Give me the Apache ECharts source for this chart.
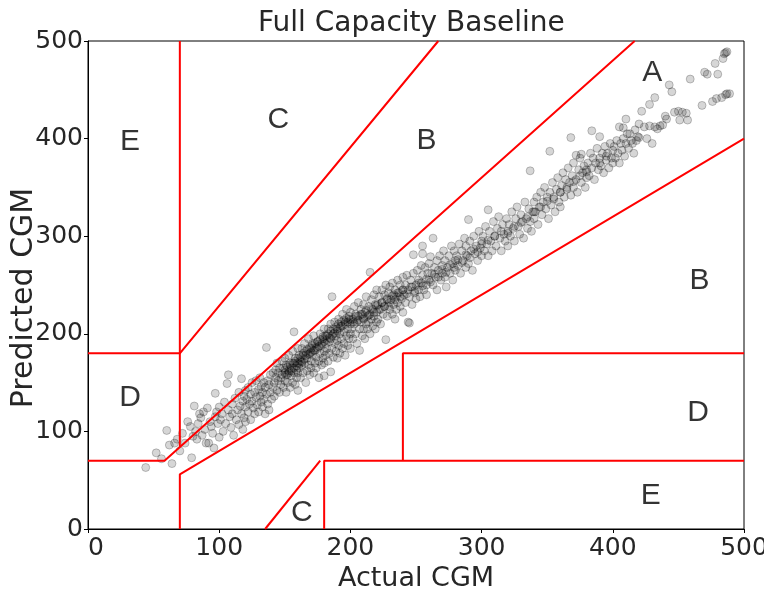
<!DOCTYPE html>
<html>
<head>
<meta charset="utf-8">
<script src="https://cdn.jsdelivr.net/npm/echarts@6/dist/echarts.min.js"></script>
<style>
html,body{margin:0;padding:0;background:#fff;}
#chart{width:764px;height:592px;}
</style>
</head>
<body>
<div id="chart"></div>
<script>
// Tick values
const xTicks = [0, 100, 200, 300, 400, 500];
const yTicks = [0, 100, 200, 300, 400, 500];

// Zone boundary segments (data coordinates of Clarke error grid)
const zoneLines = [
  [[0, 70], [58.33, 70], [416.67, 500]],
  [[0, 180], [70, 180], [267, 500]],
  [[70, 500], [70, 84]],
  [[70, 0], [70, 56], [500, 400]],
  [[135, 0], [177, 70]],
  [[180, 0], [180, 70], [500, 70]],
  [[240, 70], [240, 180], [500, 180]]
];

// Zone letters [x, y, label]
const zoneLabels = [
  [430, 467, 'A'], [258, 398, 'B'], [466, 254, 'B'],
  [145, 419, 'C'], [163, 17, 'C'], [32, 135, 'D'],
  [465, 119, 'D'], [32, 397, 'E'], [429, 34, 'E']
];

// [Actual CGM, Predicted CGM] pairs
const pairsLow = [
  [44,63],[52,78],[56,72],[60,101],[62,86],[64,67],[66,88],[68,92],[70,80],[72,98],[74,88],[76,110],[78,105],[79,73],[80,95],
  [81,126],[82,100],[83,92],[84,108],[85,118],[86,114],[87,96],[88,120],[89,102],[90,88],[91,124],[92,88],[93,110],[94,105],[95,98],[96,83],[97,139],[97,115],[98,120],[99,108],
  [100,94],[100,125],[101,112],[102,118],[103,100],[104,130],[105,108],[106,149],[107,158],[107,122],[108,115],[109,104],[110,128],[110,118],[111,96],[112,134],[113,112],[114,122],[115,107],[115,140],[116,126],[117,154],[117,118],[118,131],[118,102],[119,136],[119,114],[120,125],[120,142],[120,110],
  [121,133],[122,120],[122,145],[123,128],[124,138],[124,112],[125,150],[125,131],[126,124],[127,140],[127,118],[128,135],[128,152],[129,127],[130,143],[130,120],[131,136],[131,155],[132,130],[132,146],[133,125],[133,140],[134,150],[134,133],[135,118],[135,145],[136,186],[136,138],[137,152],[137,128],[138,122],[138,148],[139,140],[139,158],[140,133]
];
const pairsMid = [
  [141,145],[141,160],[142,150],[142,136],[143,163],[143,155],[144,142],[144,170],[145,152],[145,160],[146,140],[146,165],[147,155],[147,148],[148,172],[148,158],[149,145],[149,165],[150,160],[150,152],[150,175],[151,140],[151,168],[152,158],[152,150],[153,178],[153,162],[154,145],[154,170],[155,157],[155,165],[156,182],[156,150],[157,202],[157,170],[157,160],[158,148],[158,175],[159,163],[159,155],[160,185],[160,170],[160,160],[160,142],[161,178],
  [161,165],[162,172],[162,155],[163,185],[163,168],[164,160],[164,178],[165,190],[165,170],[166,150],[166,182],[167,175],[167,162],[168,195],[168,168],[169,180],[169,158],[170,185],[170,172],[170,165],[171,190],[171,178],[172,160],[172,198],[173,183],[173,170],[174,176],[174,165],[175,192],[175,185],[176,172],[176,155],[177,200],[177,180],[178,168],[178,188],[179,175],[179,195],[180,157],[180,182],[180,170],[180,205],
  [181,190],[181,178],[182,198],[182,185],[183,172],[183,205],[184,192],[184,180],[185,161],[185,210],[185,195],[186,238],[186,185],[187,200],[187,176],[188,190],[188,212],[189,182],[189,198],[190,205],[190,193],[190,175],[191,215],[191,188],[192,200],[192,180],[193,208],[193,195],[194,220],[194,185],[195,202],[195,190],[196,212],[196,178],[197,198],[197,225],[198,205],[198,188],[199,215],[199,195],[200,210],[200,200],[200,185],[200,222],
  [201,205],[202,215],[202,195],[203,228],[203,210],[204,200],[204,220],[205,212],[205,190],[206,232],[206,218],[207,183],[207,205],[208,225],[208,212],[209,198],[209,220],[210,215],[210,230],[210,205],[211,222],[211,195],[212,210],[212,238],[213,218],[213,205],[214,228],[214,212],[215,263],[215,200],[215,220],[216,235],[216,215],[217,208],[217,225],[218,240],[218,218],[219,205],[219,230],[220,222],[220,212],[220,245],
  [221,230],[221,215],[222,238],[223,225],[223,210],[224,245],[224,232],[225,220],[226,240],[226,228],[227,194],[227,250],[228,235],[228,218],[229,242],[229,228],[230,225],[230,248],[231,235],[232,220],[232,252],[233,240],[233,230],[234,215],[234,245],[235,238],[235,225],[236,255],[236,232],[237,242],[238,228],[238,250],[239,236],[240,245],[240,222],[240,258]
];
const pairsHigh = [
  [241,240],[242,250],[242,232],[243,260],[244,212],[244,245],[245,211],[245,238],[246,255],[247,248],[247,230],[248,281],[248,262],[249,242],[250,250],[250,236],[251,265],[252,255],[252,245],[253,238],[254,270],[254,252],[255,290],[255,282],[255,260],[256,245],[257,268],[258,250],[258,240],[259,262],[260,255],[260,272],
  [261,279],[262,262],[263,298],[263,250],[264,268],[265,258],[266,275],[266,245],[267,265],[268,280],[269,255],[270,270],[270,262],[271,285],[272,258],[272,275],[273,248],[274,268],[275,280],[276,262],[277,290],[278,272],[278,255],[279,285],[280,275],[280,265],
  [281,280],[282,270],[283,292],[284,262],[285,285],[286,275],[287,298],[288,268],[288,290],[289,280],[290,317],[290,272],[291,295],[292,285],[293,265],[294,300],[295,282],[296,290],[297,275],[298,305],[299,288],[300,280],[300,295],
  [301,300],[302,285],[303,310],[304,292],[305,327],[305,280],[306,305],[307,295],[308,285],[309,315],[310,300],[311,290],[312,308],[313,320],[314,298],[315,285],[316,312],[317,302],[318,295],[319,318],[320,305],[320,290],
  [321,312],[322,300],[323,325],[324,308],[325,295],[326,318],[327,330],[328,310],[329,302],[330,322],[331,315],[332,298],[333,335],[334,318],[335,308],[336,328],[337,367],[337,315],[338,305],[339,325],[340,318],[340,335],
  [341,325],[342,340],[343,312],[344,330],[345,345],[346,322],[347,335],[348,350],[349,328],[350,340],[351,318],[352,387],[352,345],[353,332],[354,355],[355,338],[356,325],[357,348],[358,360],[359,335],[360,345],[360,330],
  [361,352],[362,365],[363,340],[364,358],[365,348],[366,370],[367,355],[368,401],[368,342],[369,362],[370,375],[370,350],[372,383],[372,358],[373,345],[374,368],[375,380],[376,384],[376,355],[377,365],[378,372],[379,350],[380,368],[380,360],
  [381,375],[382,362],[383,385],[384,408],[384,370],[385,380],[386,358],[387,375],[388,390],[389,368],[390,402],[390,380],[391,372],[392,385],[393,365],[394,392],[395,378],[396,385],[397,370],[398,395],[399,380],[400,375],[400,388],
  [401,392],[402,380],[403,398],[404,385],[405,412],[405,375],[406,395],[407,388],[408,411],[408,400],[409,382],[410,420],[410,395],[411,405],[412,390],[413,405],[414,398],[415,395],[416,385],[417,409],[418,398],[419,402],[420,415],[420,401],
  [422,428],[424,412],[426,400],[428,435],[428,413],[430,395],[432,442],[432,412],[434,410],[436,413],[438,414],[440,423],[441,420],
  [443,455],[445,448],[447,427],[450,428],[451,419],[453,427],[456,426],[457,419],[459,461],
  [468,434],[470,468],[472,466],[476,438],[478,477],[479,441],[480,466],[483,442],[484,482],[486,445],[486,488],[487,446],[489,446],[487,489],[485,487]
];
// dense core of the cloud
const pairsCore = [
  [150,163],[151,158],[152,166],[153,160],[154,168],[155,162],[156,170],[157,165],[158,172],[159,167],[160,175],[161,169],[162,176],[163,171],[164,180],[165,174],[166,178],[167,184],[168,179],[169,186],[170,181],[171,188],[172,183],[173,190],[174,186],[175,192],[176,187],[177,194],[178,190],[179,197],[180,192],
  [181,198],[182,194],[183,200],[184,196],[185,203],[186,198],[187,205],[188,201],[189,207],[190,203],[191,210],[192,206],[193,212],[194,208],[195,214],[196,210],[197,216],[198,212],[199,218],[200,214],
  [202,212],[204,218],[206,214],[208,220],[210,216],[212,224],[214,219],[216,226],[218,222],[220,229],[222,225],[224,232],[226,228],[228,236],[230,232],[232,239],[234,235],[236,242],[238,238],[240,245],
  [243,241],[246,248],[249,244],[252,252],[255,249],[258,256],[261,253],[264,261],[267,258],[270,266],[273,263],[276,271],[279,268],[282,276],[285,273],[288,281],[291,278],[294,287],[297,284],[300,292],
  [305,296],[310,300],[315,305],[320,303],[325,310],[330,314],[335,320],[340,325],[345,330],[350,336],[355,340],[360,345],[365,350],[370,356],[375,362],[380,366],[390,375],[395,382]
];

const chart = echarts.init(document.getElementById('chart'), null, {renderer: 'canvas'});
const tickFont = {fontFamily: 'DejaVu Sans', fontSize: 25, color: '#262626'};

const series = [{
  type: 'scatter',
  data: pairsLow.concat(pairsMid, pairsHigh, pairsCore),
  symbolSize: 8,
  itemStyle: {color: 'rgba(0,0,0,0.2)', borderColor: 'rgba(0,0,0,0.28)', borderWidth: 1},
  silent: true,
  z: 2
}];
zoneLines.forEach(seg => {
  series.push({
    type: 'line', data: seg, showSymbol: false, silent: true,
    lineStyle: {color: '#ff0000', width: 2}, z: 3
  });
});
series.push({
  type: 'scatter',
  data: zoneLabels.map(d => ({value: [d[0], d[1]], name: d[2]})),
  symbolSize: 0,
  silent: true,
  label: {show: true, position: 'inside', formatter: p => p.name,
    fontFamily: 'Liberation Sans', fontSize: 30, color: '#000'},
  z: 4
});

chart.setOption({
  animation: false,
  backgroundColor: '#fff',
  title: {
    text: 'Full Capacity Baseline',
    left: 253, top: 5,
    textStyle: {fontFamily: 'DejaVu Sans', fontSize: 28, fontWeight: 'normal', color: '#262626'}
  },
  graphic: [{
    type: 'text', x: 24, y: 298, rotation: Math.PI / 2, silent: true,
    style: {text: 'Predicted CGM', fontFamily: 'DejaVu Sans', fontSize: 30, fill: '#262626',
      align: 'center', verticalAlign: 'middle'}
  }],
  grid: {left: 88, top: 41, width: 656, height: 488, show: true, borderColor: '#000', borderWidth: 1,
    backgroundColor: 'transparent', containLabel: false, outerBoundsMode: 'none'},
  xAxis: {
    type: 'value', min: xTicks[0], max: xTicks[xTicks.length - 1], interval: 100,
    name: 'Actual CGM', nameLocation: 'middle', nameGap: 32,
    nameTextStyle: {fontFamily: 'DejaVu Sans', fontSize: 27, color: '#262626'},
    axisLine: {show: true, lineStyle: {color: '#000', width: 1}},
    axisTick: {show: true, inside: false, length: 4, lineStyle: {color: '#000'}},
    axisLabel: Object.assign({margin: 7, alignMinLabel: 'left'}, tickFont),
    splitLine: {show: false}
  },
  yAxis: {
    type: 'value', min: yTicks[0], max: yTicks[yTicks.length - 1], interval: 100,
    axisLine: {show: true, lineStyle: {color: '#000', width: 1}},
    axisTick: {show: true, inside: false, length: 4, lineStyle: {color: '#000'}},
    axisLabel: Object.assign({margin: 5}, tickFont),
    splitLine: {show: false}
  },
  series: series
});
</script>
</body>
</html>
